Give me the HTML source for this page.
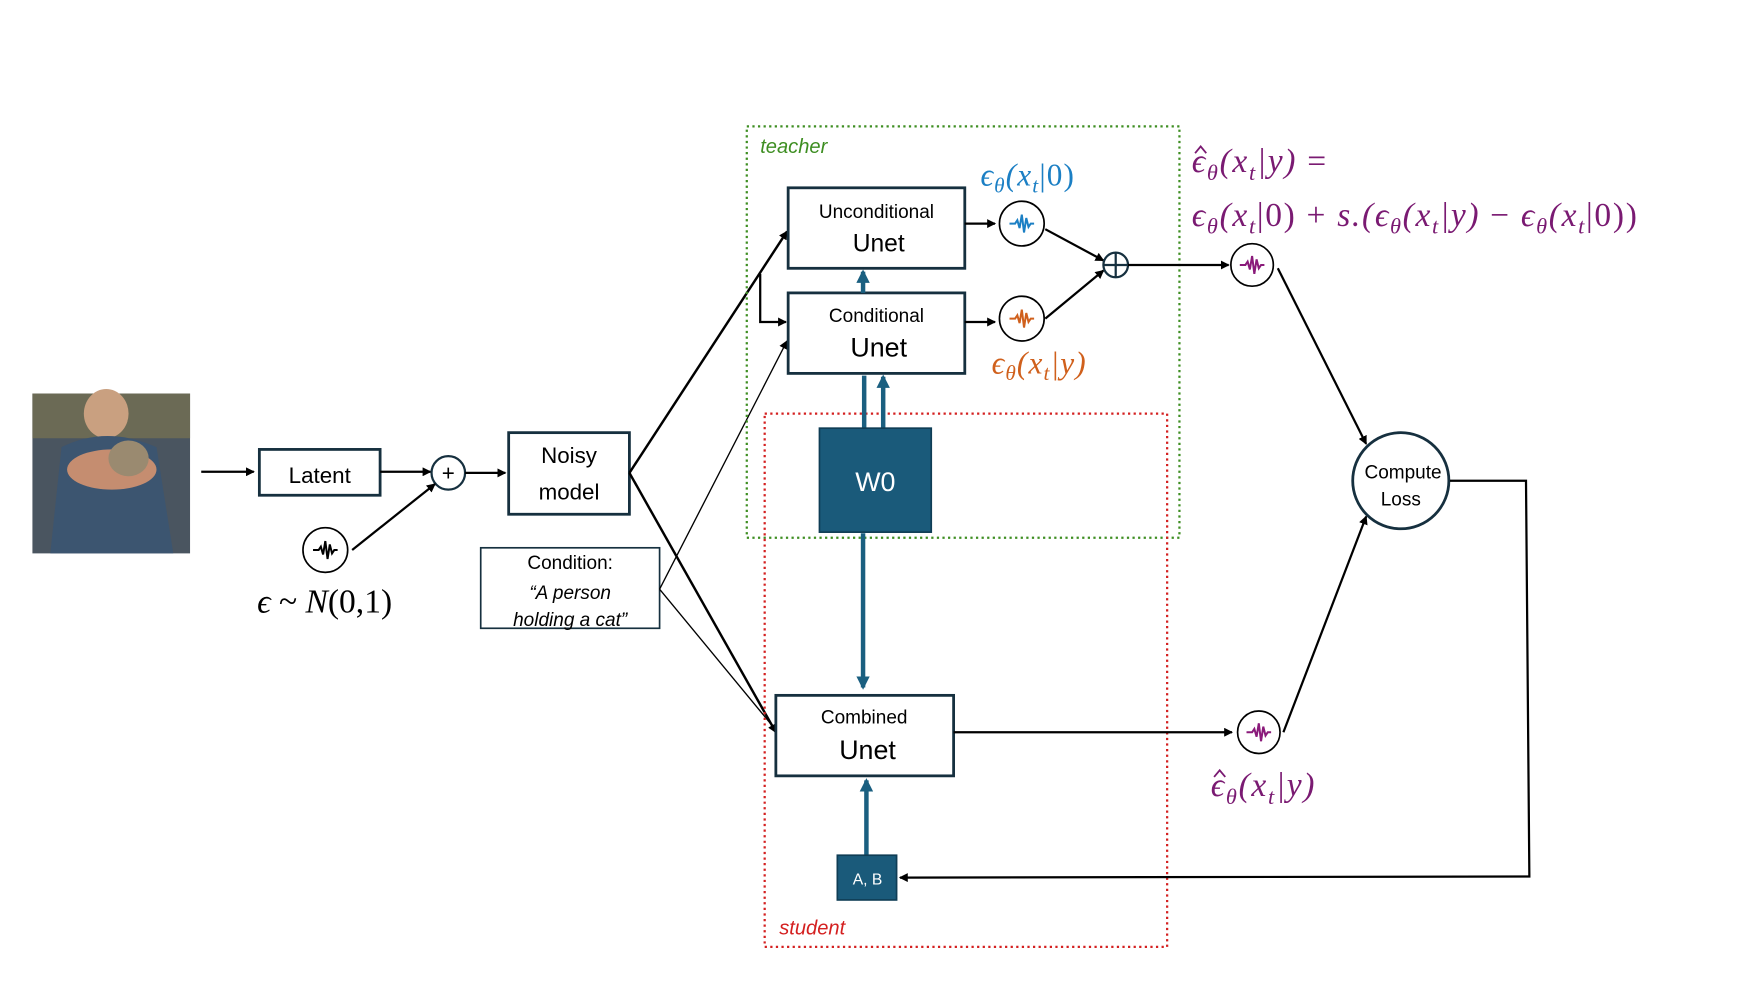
<!DOCTYPE html>
<html><head><meta charset="utf-8"><style>html,body{margin:0;padding:0;background:#fff}svg{display:block}</style></head><body>
<svg width="1744" height="981" viewBox="0 0 1560 877.5" xmlns="http://www.w3.org/2000/svg" font-family="Liberation Sans, sans-serif">
<defs>
<marker id="ak" markerWidth="8" markerHeight="8" refX="7" refY="4" orient="auto" markerUnits="userSpaceOnUse"><path d="M0,0 L8,4 L0,8 z" fill="#000"/></marker>
<marker id="ab" markerWidth="12" markerHeight="12" refX="10" refY="6" orient="auto" markerUnits="userSpaceOnUse"><path d="M0,0 L12,6 L0,12 z" fill="#1a5f80"/></marker>
<g id="wave"><path d="M-11,0 L-6,0 L-4,-3 L-2,4 L0,-8 L2,8 L4,-5 L6,3 L8,0 L11,0" fill="none" stroke-width="1.8"/></g>
</defs>
<!-- photo -->
<rect x="29" y="352" width="141" height="143" fill="#4a5560"/>
<rect x="29" y="352" width="141" height="40" fill="#6b6a55"/>
<ellipse cx="95" cy="370" rx="20" ry="22" fill="#c9a080"/>
<path d="M45,495 L55,400 Q95,380 140,400 L155,495 z" fill="#3c5570"/>
<ellipse cx="100" cy="420" rx="40" ry="18" fill="#c58d70"/>
<ellipse cx="115" cy="410" rx="18" ry="16" fill="#9a8a70"/>
<!-- arrows left -->
<line x1="180" y1="422" x2="227" y2="422" stroke="#000" stroke-width="2" marker-end="url(#ak)"/>
<rect x="232" y="402" width="108" height="41" fill="none" stroke="#16303f" stroke-width="2.5"/>
<text x="286" y="432" font-size="20" text-anchor="middle">Latent</text>
<line x1="340" y1="422" x2="385" y2="422" stroke="#000" stroke-width="2" marker-end="url(#ak)"/>
<circle cx="401" cy="423" r="15" fill="none" stroke="#16303f" stroke-width="2"/>
<text x="401" y="430" font-size="20" text-anchor="middle">+</text>
<circle cx="291" cy="492" r="20" fill="none" stroke="#000" stroke-width="1.5"/>
<use href="#wave" x="291" y="492" stroke="#000"/>
<line x1="315" y1="492" x2="389" y2="433" stroke="#000" stroke-width="2" marker-end="url(#ak)"/>
<text x="230" y="548" font-size="30" font-family="Liberation Serif, serif"><tspan font-style="italic">ϵ</tspan> ~ <tspan font-style="italic">N</tspan>(0,1)</text>
<line x1="416" y1="423" x2="452" y2="423" stroke="#000" stroke-width="2" marker-end="url(#ak)"/>
<rect x="455" y="387" width="108" height="73" fill="none" stroke="#16303f" stroke-width="2.5"/>
<text x="509" y="414" font-size="20" text-anchor="middle">Noisy</text>
<text x="509" y="447" font-size="20" text-anchor="middle">model</text>
<rect x="430" y="490" width="160" height="72" fill="none" stroke="#16303f" stroke-width="1.5"/>
<text x="510" y="509" font-size="17" text-anchor="middle">Condition:</text>
<text x="510" y="536" font-size="17" text-anchor="middle" font-style="italic">“A person</text>
<text x="510" y="560" font-size="17" text-anchor="middle" font-style="italic">holding a cat”</text>
<!-- connectors to unets -->
<line x1="563" y1="423" x2="704" y2="207" stroke="#000" stroke-width="2.2" marker-end="url(#ak)"/>
<line x1="563" y1="423" x2="694" y2="655" stroke="#000" stroke-width="2.2" marker-end="url(#ak)"/>
<line x1="590" y1="527" x2="704" y2="305" stroke="#000" stroke-width="1.2" marker-end="url(#ak)"/>
<line x1="590" y1="527" x2="694" y2="653" stroke="#000" stroke-width="1.2"/>
<polyline points="680,245 680,288 703,288" fill="none" stroke="#000" stroke-width="2" marker-end="url(#ak)"/>
<!-- teacher / student -->
<rect x="668" y="113" width="387" height="368" fill="none" stroke="#3e8e22" stroke-width="2" stroke-dasharray="2,3"/>
<text x="680" y="137" font-size="18" fill="#3e8e22" font-style="italic">teacher</text>
<rect x="684" y="370" width="360" height="477" fill="none" stroke="#d42020" stroke-width="2" stroke-dasharray="2,3"/>
<text x="697" y="836" font-size="18" fill="#d42020" font-style="italic">student</text>
<!-- Unets -->
<rect x="705" y="168" width="158" height="72" fill="#fff" stroke="#16303f" stroke-width="2.5"/>
<text x="784" y="195" font-size="17" text-anchor="middle">Unconditional</text>
<text x="786" y="225" font-size="22" text-anchor="middle">Unet</text>
<rect x="705" y="262" width="158" height="72" fill="#fff" stroke="#16303f" stroke-width="2.5"/>
<text x="784" y="288" font-size="17" text-anchor="middle">Conditional</text>
<text x="786" y="319" font-size="24" text-anchor="middle">Unet</text>
<line x1="772" y1="262" x2="772" y2="243" stroke="#1a5f80" stroke-width="4" marker-end="url(#ab)"/>
<line x1="773" y1="383" x2="773" y2="336" stroke="#1a5f80" stroke-width="4"/>
<line x1="790" y1="383" x2="790" y2="337" stroke="#1a5f80" stroke-width="4" marker-end="url(#ab)"/>
<rect x="733" y="383" width="100" height="93" fill="#1a5a7a" stroke="#0f3d55" stroke-width="1.5"/>
<text x="783" y="439" font-size="24" fill="#fff" text-anchor="middle">W0</text>
<line x1="772" y1="477" x2="772" y2="615" stroke="#1a5f80" stroke-width="4" marker-end="url(#ab)"/>
<rect x="694" y="622" width="159" height="72" fill="#fff" stroke="#16303f" stroke-width="2.5"/>
<text x="773" y="647" font-size="17" text-anchor="middle">Combined</text>
<text x="776" y="679" font-size="24" text-anchor="middle">Unet</text>
<line x1="775" y1="765" x2="775" y2="698" stroke="#1a5f80" stroke-width="4" marker-end="url(#ab)"/>
<rect x="749" y="765" width="53" height="40" fill="#1a5a7a" stroke="#0f3d55" stroke-width="1.5"/>
<text x="776" y="791" font-size="14" fill="#fff" text-anchor="middle">A, B</text>
<!-- noise outputs -->
<line x1="863" y1="200" x2="890" y2="200" stroke="#000" stroke-width="2" marker-end="url(#ak)"/>
<line x1="863" y1="288" x2="890" y2="288" stroke="#000" stroke-width="2" marker-end="url(#ak)"/>
<circle cx="914" cy="200" r="20" fill="#fff" stroke="#000" stroke-width="1.5"/>
<use href="#wave" x="914" y="200" stroke="#1b7fc4"/>
<circle cx="914" cy="285" r="20" fill="#fff" stroke="#000" stroke-width="1.5"/>
<use href="#wave" x="914" y="285" stroke="#d0601c"/>
<line x1="935" y1="205" x2="987" y2="233" stroke="#000" stroke-width="2" marker-end="url(#ak)"/>
<line x1="935" y1="285" x2="987" y2="242" stroke="#000" stroke-width="2" marker-end="url(#ak)"/>
<circle cx="998" cy="237" r="11" fill="#fff" stroke="#16303f" stroke-width="2"/>
<line x1="987" y1="237" x2="1009" y2="237" stroke="#16303f" stroke-width="2"/>
<line x1="998" y1="226" x2="998" y2="248" stroke="#16303f" stroke-width="2"/>
<line x1="1009" y1="237" x2="1099" y2="237" stroke="#000" stroke-width="2" marker-end="url(#ak)"/>
<circle cx="1120" cy="237" r="19" fill="#fff" stroke="#000" stroke-width="1.5"/>
<use href="#wave" x="1120" y="237" stroke="#8a1a7a"/>
<line x1="853" y1="655" x2="1102" y2="655" stroke="#000" stroke-width="2" marker-end="url(#ak)"/>
<circle cx="1126" cy="655" r="19" fill="#fff" stroke="#000" stroke-width="1.5"/>
<use href="#wave" x="1126" y="655" stroke="#8a1a7a"/>
<!-- labels -->
<g font-family="Liberation Serif, serif" font-style="italic">
<text x="877" y="166" font-size="28" fill="#1b7fc4" letter-spacing="1">ϵ<tspan font-size="19" dy="6">θ</tspan><tspan dy="-6">(x</tspan><tspan font-size="19" dy="6">t</tspan><tspan dy="-6" font-style="normal">|0)</tspan></text>
<text x="887" y="334" font-size="28" fill="#d0601c" letter-spacing="1">ϵ<tspan font-size="19" dy="6">θ</tspan><tspan dy="-6">(x</tspan><tspan font-size="19" dy="6">t</tspan><tspan dy="-6">|y)</tspan></text>
<text x="1066" y="154" font-size="30" fill="#7a1a72" letter-spacing="1.5">ϵ<tspan font-size="20" dy="7">θ</tspan><tspan dy="-7">(x</tspan><tspan font-size="20" dy="7">t</tspan><tspan dy="-7">|y) </tspan><tspan font-style="normal">=</tspan></text>
<polyline points="1069,137 1074,131 1079,137" fill="none" stroke="#7a1a72" stroke-width="1.6"/>
<text x="1066" y="202" font-size="30" fill="#7a1a72" letter-spacing="1.5">ϵ<tspan font-size="20" dy="7">θ</tspan><tspan dy="-7">(x</tspan><tspan font-size="20" dy="7">t</tspan><tspan dy="-7" font-style="normal">|0) + </tspan>s.(ϵ<tspan font-size="20" dy="7">θ</tspan><tspan dy="-7">(x</tspan><tspan font-size="20" dy="7">t</tspan><tspan dy="-7">|y) </tspan><tspan font-style="normal">− </tspan>ϵ<tspan font-size="20" dy="7">θ</tspan><tspan dy="-7">(x</tspan><tspan font-size="20" dy="7">t</tspan><tspan dy="-7" font-style="normal">|0))</tspan></text>
<text x="1083" y="712" font-size="30" fill="#7a1a72" letter-spacing="1.5">ϵ<tspan font-size="20" dy="7">θ</tspan><tspan dy="-7">(x</tspan><tspan font-size="20" dy="7">t</tspan><tspan dy="-7">|y)</tspan></text>
<polyline points="1086,695 1091,689 1096,695" fill="none" stroke="#7a1a72" stroke-width="1.6"/>
</g>
<!-- loss -->
<line x1="1143" y1="240" x2="1222" y2="397" stroke="#000" stroke-width="2" marker-end="url(#ak)"/>
<line x1="1148" y1="655" x2="1222" y2="462" stroke="#000" stroke-width="2" marker-end="url(#ak)"/>
<circle cx="1253" cy="430" r="43" fill="#fff" stroke="#16303f" stroke-width="2.5"/>
<text x="1255" y="428" font-size="17" text-anchor="middle">Compute</text>
<text x="1253" y="452" font-size="17" text-anchor="middle">Loss</text>
<polyline points="1297,430 1365,430 1368,784 805,785" fill="none" stroke="#000" stroke-width="2" marker-end="url(#ak)"/>
</svg>
</body></html>
